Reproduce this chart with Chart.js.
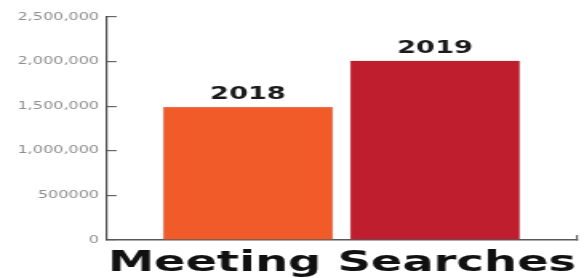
<!DOCTYPE html>
<html>
<head>
<meta charset="utf-8">
<script src="https://cdn.jsdelivr.net/npm/chart.js@4/dist/chart.umd.min.js"></script>
<style>
    body { margin: 0; background: #fff; overflow: hidden; }
    #wrap { width: 584px; height: 278px; }
    /* the original graphic is stretched sideways, so draw narrow and widen it */
    #chart { transform: scaleX(1.6); transform-origin: 0 0; }
</style>
</head>
<body>
<div id="wrap"><canvas id="chart" width="365" height="278"></canvas></div>
<script>
const years = ["2018", "2019"];
const searches = [1490000, 2010000];
const yTickValues = [0, 500000, 1000000, 1500000, 2000000, 2500000];
const yTickLabels = ["0", "500000", "1,000,000", "1,500,000", "2,000,000", "2,500,000"];
const chartTitle = "Meeting Searches";

const barLabels = {
    id: "barLabels",
    afterDatasetsDraw(chart) {
        const ctx = chart.ctx;
        const meta = chart.getDatasetMeta(0);
        ctx.save();
        ctx.font = 'bold 17px "DejaVu Sans"';
        ctx.fillStyle = "#1a1a1a";
        ctx.textAlign = "center";
        ctx.textBaseline = "alphabetic";
        meta.data.forEach((bar, i) => {
            ctx.fillText(years[i], bar.x, bar.y - 8);
        });
        ctx.restore();
    }
};

document.addEventListener("DOMContentLoaded", function () {
    const ctx = document.getElementById("chart").getContext("2d");

    new Chart(ctx, {
        type: "bar",
        data: {
            datasets: [{
                label: chartTitle,
                data: searches.map((v, i) => ({ x: i, y: v })),
                backgroundColor: ["#f15a29", "#be1e2d"],
                borderColor: "rgba(90, 60, 60, 0.35)",
                borderWidth: 0.6,
                barThickness: 106
            }]
        },
        options: {
            responsive: false,
            animation: false,
            layout: {
                padding: { top: 14, left: 0, right: 4.4, bottom: 0 }
            },
            plugins: {
                legend: { display: false },
                tooltip: { enabled: false },
                title: {
                    display: true,
                    text: chartTitle,
                    position: "bottom",
                    fullSize: false,
                    align: "center",
                    color: "#111",
                    font: { family: "DejaVu Sans", size: 29, weight: "bold", lineHeight: 1 },
                    padding: { top: 9, bottom: 0 }
                }
            },
            scales: {
                x: {
                    type: "linear",
                    min: -0.754,
                    max: 1.759,
                    bounds: "data",
                    offset: false,
                    ticks: { display: false, includeBounds: true },
                    afterDataLimits: scale => {
                        scale.min = -0.754;
                        scale.max = 1.759;
                    },
                    afterBuildTicks: scale => {
                        scale.ticks = [{ value: scale.max }];
                    },
                    afterFit: scale => {
                        scale.height = 0;
                    },
                    grid: {
                        offset: false,
                        drawOnChartArea: false,
                        tickLength: -5,
                        color: "#666",
                        lineWidth: 1.2
                    },
                    border: { color: "#5a5a5a", width: 1.5 }
                },
                y: {
                    min: 0,
                    max: 2500000,
                    afterBuildTicks: scale => {
                        scale.ticks = yTickValues.map(v => ({ value: v }));
                    },
                    afterFit: scale => {
                        scale.width = 66.9;
                    },
                    ticks: {
                        padding: 11,
                        color: "#8c8c8c",
                        font: { family: "DejaVu Sans", size: 10 },
                        callback: (value, index) => yTickLabels[index]
                    },
                    grid: {
                        drawOnChartArea: false,
                        tickLength: -6,
                        color: "#666",
                        lineWidth: 1.2
                    },
                    border: { color: "#4d4d4d", width: 1.2 }
                }
            }
        },
        plugins: [barLabels]
    });
});
</script>
</body>
</html>
